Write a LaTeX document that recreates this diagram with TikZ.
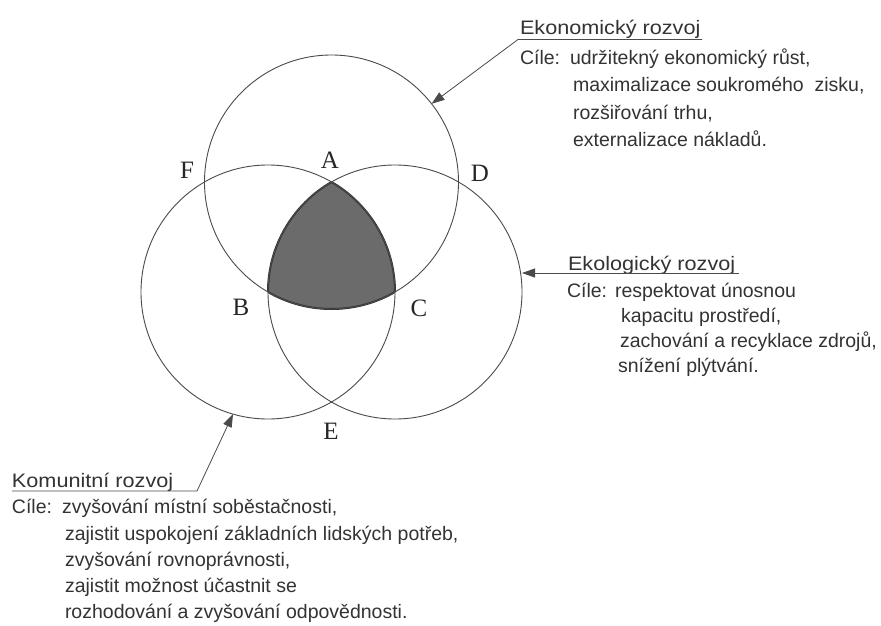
\documentclass[tikz,border=0pt]{standalone}
\usepackage{fontspec}
\newfontfamily\arialf{Liberation Sans}
\newfontfamily\arialw[FakeStretch=1.11]{Liberation Sans}
\newfontfamily\serifl{Liberation Serif}
\usetikzlibrary{arrows.meta}
\definecolor{txt}{HTML}{333333}
\definecolor{ln}{HTML}{4A4A4A}
\definecolor{shd}{HTML}{6B6B6B}
\begin{document}
\begin{tikzpicture}[x=1pt,y=-1pt,
  every node/.style={inner sep=0pt,outer sep=0pt},
  body/.style={anchor=base west,font=\arialf\fontsize{19.5}{23}\selectfont,text=txt},
  title/.style={anchor=base west,font=\arialw\fontsize{19.5}{23}\selectfont,text=txt},
  letter/.style={font=\serifl\fontsize{25}{28}\selectfont,text=black!85},
  circ/.style={circle,draw=ln,line width=0.9pt,minimum size=254pt},
  lead/.style={draw=ln,line width=0.8pt,-{Triangle[length=13pt,width=9pt]}}
]
\fill[white] (0,0) rectangle (881,626);
\useasboundingbox (0,0) rectangle (881,626);

% circle centres
\coordinate (pA) at (331.5,182);
\coordinate (pB) at (268,292);
\coordinate (pC) at (395,292);

% shaded common region
\begin{scope}
  \clip (pB) circle [radius=127pt];
  \clip (pC) circle [radius=127pt];
  \fill[shd] (pA) circle [radius=127pt];
  \draw[black!80,line width=2pt] (pA) circle [radius=127pt];
\end{scope}
\begin{scope}
  \clip (pA) circle [radius=127pt];
  \clip (pB) circle [radius=127pt];
  \draw[black!80,line width=2pt] (pC) circle [radius=127pt];
\end{scope}
\begin{scope}
  \clip (pA) circle [radius=127pt];
  \clip (pC) circle [radius=127pt];
  \draw[black!80,line width=2pt] (pB) circle [radius=127pt];
\end{scope}

% circles
\node[circ] (cTop) at (pA) {};
\node[circ] (cLeft) at (pB) {};
\node[circ] (cRight) at (pC) {};

% letters
\node[letter] (lA) at (330,160) {A};
\node[letter] (lF) at (187,170) {F};
\node[letter] (lD) at (480,173) {D};
\node[letter] (lB) at (241,307) {B};
\node[letter] (lC) at (419,308) {C};
\node[letter] (lE) at (331,431) {E};

% Ekonomicky rozvoj
\node[title] (e0) at (520,35) {Ekonomický rozvoj};
\node[body] (e1) at (520,65) {Cíle:};
\node[body] (e2) at (570,65) {udržitekný ekonomický růst,};
\node[body] (e3) at (573,92) {maximalizace soukromého\ \ zisku,};
\node[body] (e4) at (573,119) {rozšiřování trhu,};
\node[body] (e5) at (573,146) {externalizace nákladů.};
\coordinate (eu0) at (702,39.5);
\coordinate (eu1) at (518,39.5);
\draw[lead] (eu0) -- (eu1) -- (cTop.38.6);

% Ekologicky rozvoj
\node[title] (g0) at (568,270) {Ekologický rozvoj};
\node[body] (g1) at (567,297) {Cíle:};
\node[body] (g2) at (615,297) {respektovat únosnou};
\node[body] (g3) at (621,322) {kapacitu prostředí,};
\node[body] (g4) at (620,347) {zachování a recyklace zdrojů,};
\node[body] (g5) at (618,372) {snížení plýtvání.};
\coordinate (gu0) at (739,273);
\draw[lead] (gu0) -- (cRight.east |- gu0);

% Komunitni rozvoj
\node[title] (k0) at (12,487) {Komunitní rozvoj};
\node[body] (k1) at (12,513.5) {Cíle:};
\node[body] (k2) at (62,513.5) {zvyšování místní soběstačnosti,};
\node[body] (k3) at (65,540) {zajistit uspokojení základních lidských potřeb,};
\node[body] (k4) at (65,566.5) {zvyšování rovnoprávnosti,};
\node[body] (k5) at (65,592.5) {zajistit možnost účastnit se};
\node[body] (k6) at (65,618) {rozhodování a zvyšování odpovědnosti.};
\coordinate (ku0) at (12,491);
\coordinate (ku1) at (197,491);
\draw[lead] (ku0) -- (ku1) -- (cLeft.254.1);
\end{tikzpicture}
\end{document}
